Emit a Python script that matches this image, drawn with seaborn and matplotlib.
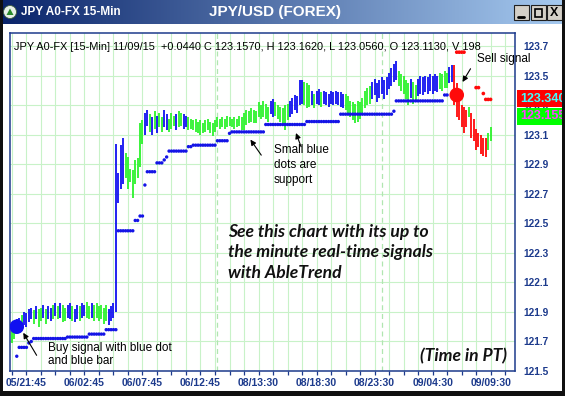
import numpy as np
import pandas as pd
import matplotlib
matplotlib.use("Agg")
import matplotlib.pyplot as plt
import seaborn as sns
from matplotlib.patches import Rectangle, Circle, Polygon

# ---------------- data ----------------
highs = [
    121.80, 121.82, 121.85, 121.86, 121.88, 121.90, 121.89, 121.92, 121.93, 121.91,
    121.94, 121.92, 121.93, 121.95, 121.92, 121.94, 121.93, 121.95, 121.96, 121.94,
    121.96, 121.95, 121.93, 121.95, 121.96, 121.94, 121.92, 121.95, 121.94, 121.96,
    121.95, 121.97, 121.94, 121.96, 121.95, 121.96, 121.94, 121.95, 121.93, 121.95,
    121.92, 121.94, 121.96,
    123.04, 122.84, 123.03, 123.08, 122.98, 122.95, 122.87, 122.86, 122.93, 122.94,
    123.18, 123.20, 123.25, 123.27,
    123.24, 123.22, 123.26, 123.23, 123.25, 123.22, 123.27, 123.24, 123.21, 123.25,
    123.23, 123.24, 123.26, 123.25, 123.24, 123.23, 123.22, 123.21, 123.20, 123.21,
    123.19, 123.20, 123.18, 123.20, 123.21, 123.19, 123.18, 123.20, 123.22, 123.21,
    123.22, 123.21, 123.23, 123.22, 123.21, 123.22, 123.21, 123.23, 123.22,
    123.25, 123.27, 123.26, 123.28, 123.27, 123.26, 123.32, 123.30, 123.33, 123.31,
    123.29, 123.33, 123.34, 123.32, 123.30, 123.29, 123.28, 123.30, 123.31, 123.33,
    123.35, 123.37, 123.36, 123.47, 123.47, 123.46, 123.45, 123.44, 123.40, 123.38,
    123.40, 123.41, 123.39, 123.40, 123.39, 123.38,
    123.40, 123.39, 123.40, 123.39, 123.39, 123.38, 123.38, 123.36, 123.33, 123.32,
    123.31, 123.33, 123.32, 123.35, 123.40, 123.42, 123.43,
    123.46, 123.48, 123.45, 123.47, 123.49, 123.47, 123.49, 123.52, 123.55, 123.58,
    123.60, 123.53, 123.51, 123.50, 123.47, 123.45, 123.48, 123.46, 123.44, 123.48,
    123.50, 123.49, 123.50, 123.49, 123.51, 123.50, 123.51, 123.50, 123.52, 123.51,
    123.53, 123.52, 123.56, 123.57,
    123.57, 123.45, 123.35, 123.30, 123.29, 123.27, 123.29, 123.25, 123.21, 123.14,
    123.11, 123.10, 123.08, 123.08, 123.11, 123.15,
]
lows = [
    121.69, 121.72, 121.76, 121.78, 121.80, 121.81, 121.80, 121.83, 121.85, 121.82,
    121.85, 121.80, 121.84, 121.86, 121.82, 121.85, 121.84, 121.85, 121.87, 121.85,
    121.86, 121.83, 121.84, 121.86, 121.85, 121.84, 121.83, 121.85, 121.84, 121.86,
    121.87, 121.86, 121.85, 121.86, 121.84, 121.86, 121.84, 121.85, 121.82, 121.84,
    121.81, 121.84, 121.86,
    121.90, 122.64, 122.73, 122.77, 122.81, 122.73, 122.78, 122.67, 122.77, 122.81,
    122.88, 123.04, 123.10, 123.16,
    123.12, 123.10, 123.14, 123.11, 123.15, 123.12, 123.15, 123.13, 123.12, 123.14,
    123.16, 123.13, 123.15, 123.16, 123.14, 123.15, 123.13, 123.14, 123.13, 123.12,
    123.11, 123.10, 123.11, 123.12, 123.13, 123.11, 123.09, 123.12, 123.15, 123.14,
    123.15, 123.14, 123.15, 123.16, 123.15, 123.14, 123.15, 123.16, 123.13,
    123.13, 123.17, 123.18, 123.19, 123.18, 123.18, 123.22, 123.21, 123.22, 123.21,
    123.19, 123.24, 123.22, 123.23, 123.21, 123.19, 123.17, 123.13, 123.20, 123.22,
    123.24, 123.27, 123.25, 123.30, 123.31, 123.30, 123.28, 123.29, 123.30, 123.28,
    123.31, 123.30, 123.29, 123.31, 123.30, 123.29,
    123.31, 123.30, 123.31, 123.30, 123.29, 123.28, 123.27, 123.25, 123.22, 123.20,
    123.18, 123.19, 123.21, 123.24, 123.28, 123.30, 123.31,
    123.34, 123.37, 123.32, 123.35, 123.38, 123.34, 123.37, 123.41, 123.43, 123.46,
    123.47, 123.43, 123.40, 123.38, 123.34, 123.30, 123.35, 123.31, 123.32, 123.36,
    123.38, 123.37, 123.39, 123.38, 123.40, 123.38, 123.40, 123.39, 123.41, 123.40,
    123.42, 123.42, 123.45, 123.46,
    123.30, 123.22, 123.20, 123.15, 123.11, 123.15, 123.22, 123.08, 123.06, 123.00,
    123.02, 122.97, 122.96, 122.95, 123.00, 123.06,
]
trend = list(
    "ggbbgbbbbg" "bggbgbbgbg" "bggbbgbbgb" "bggbgggggg" "bbb"
    "bbbbgggggggg" "bb"
    "gbgbggbbgg" "gbggbbgggg" "gggggggggg" "ggggggggg"
    "ggggggggggg" "bb" "gggggg" "bbbbbb" "ggg" "b" "g" "bb" "g" "bbb"
    "bbbbbb" "ggggggggggg"
    "bbbbbbbbbbb" "ggggg" "b" "gg" "bbbbbbbbb" "gggg" "bb"
    "rrrrrr" "g" "rrrrrrr" "gg"
)
support = [
    None, None, 121.60, 121.66, 121.66, 121.66, 121.66, 121.69, 121.70, 121.72,
    121.72, 121.72, 121.72, 121.72, 121.72, 121.72, 121.72, 121.72, 121.72, 121.72,
    121.72, 121.72, 121.72, 121.73, 121.73, 121.73, 121.73, 121.73, 121.73, 121.73,
    121.73, 121.73, 121.75, 121.75, 121.75, 121.75, 121.75, 121.75, 121.75, 121.78,
    121.78, 121.78, 121.78, 121.78, 122.45, 122.45, 122.45, 122.45, 122.45, 122.45,
    122.45, 122.52, 122.52, 122.55, 122.55, 122.76, 122.85, 122.85, 122.85, 122.85,
    122.91, 122.91, 122.91, 122.93, 122.95, 122.99, 122.99, 122.99, 122.99, 122.99,
    122.99, 122.99, 122.99, 123.02, 123.02, 123.03, 123.03, 123.03, 123.03, 123.03,
    123.03, 123.03, 123.03, 123.03, 123.03, 123.06, 123.06, 123.06, 123.06, 123.06,
    123.11, 123.12, 123.12, 123.12, 123.12, 123.12, 123.12, 123.12, 123.12, 123.12,
    123.12, 123.12, 123.12, 123.12, 123.12, 123.17, 123.17, 123.17, 123.17, 123.17,
    123.17, 123.17, 123.17, 123.17, 123.17, 123.17, 123.17, 123.17, 123.17, 123.17,
    123.17, 123.17, 123.19, 123.19, 123.19, 123.19, 123.19, 123.19, 123.19, 123.19,
    123.19, 123.19, 123.19, 123.19, 123.19, 123.19, 123.24, 123.24, 123.24, 123.24,
    123.24, 123.24, 123.24, 123.24, 123.24, 123.24, 123.24, 123.24, 123.24, 123.24,
    123.24, 123.24, 123.24, 123.24, 123.24, 123.24, 123.24, 123.24, 123.26, 123.33,
    123.33, 123.33, 123.33, 123.33, 123.33, 123.33, 123.33, 123.33, 123.33, 123.33,
    123.33, 123.33, 123.33, 123.33, 123.33, 123.33, 123.33, 123.33, 123.33, 123.37,
    123.37, None, None, None, None, None, None, None, None, None,
    None, None, None, None, None, None, None, None, None,
]
resist_idx = [184, 185, 186, 187, 192, 193, 195, 196, 197, 198]
resist_val = [123.66, 123.66, 123.66, 123.66, 123.42, 123.42, 123.38, 123.34, 123.34, 123.34]
buy_idx, buy_val = [2], [121.80]
sell_idx, sell_val = [184], [123.37]

x_tick_labels = ["05/21:45", "06/02:45", "06/07:45", "06/12:45", "08/13:30",
                 "08/18:30", "08/23:30", "09/04:30", "09/09:30"]
y_tick_values = [121.5, 121.7, 121.9, 122.1, 122.3, 122.5, 122.7, 122.9,
                 123.1, 123.3, 123.5, 123.7]
day_breaks = [85, 153]
header = ("JPY A0-FX [15-Min] 11/09/15  +0.0440 C 123.1570, H 123.1620, "
          "L 123.0560, O 123.1130, V 198")

assert len(highs) == len(lows) == len(trend) == len(support), (len(highs), len(lows), len(trend), len(support))

# ---------------- style ----------------
sns.set_theme(style="white")
plt.rcParams['font.family'] = ['Liberation Sans', 'DejaVu Sans']

W, H = 565, 396
fig = plt.figure(figsize=(W / 100, H / 100), dpi=100)
fig.patch.set_facecolor('white')

def fx(px):
    return px / W

def fy(py):
    return 1 - py / H

NAVY = '#1c3a8c'
GRID = '#c8f2c8'

ax = fig.add_axes([fx(10), fy(371), fx(515) - fx(10), fy(33) - fy(371)])
ax.set_facecolor('white')

n = len(highs)
df = pd.DataFrame({'i': np.arange(n), 'high': highs, 'low': lows, 'trend': trend,
                   'support': pd.array(support, dtype='Float64')})
palette = {'b': '#1010f0', 'g': '#2cf22c', 'r': '#ff0808'}

for d in day_breaks:
    ax.axvline(d, color='#b0e6b0', lw=0.9, ls=(0, (4, 3)), zorder=1)

for key, sub in df.groupby('trend'):
    ax.vlines(sub['i'], sub['low'], sub['high'], color=palette[key], lw=1.3, zorder=3)

sup = df.dropna(subset=['support'])
sns.scatterplot(x=sup['i'].values, y=sup['support'].astype(float).values, ax=ax,
                color='#1414e6', s=6, edgecolor='none', legend=False, zorder=4)
sns.scatterplot(x=resist_idx, y=resist_val, ax=ax, color='#ff0a0a', s=7,
                edgecolor='none', legend=False, zorder=4)
sns.scatterplot(x=buy_idx, y=buy_val, ax=ax, color='#1010f0', s=110,
                edgecolor='none', legend=False, zorder=5)
sns.scatterplot(x=sell_idx, y=sell_val, ax=ax, color='#ff0a0a', s=110,
                edgecolor='none', legend=False, zorder=5)

ax.set_xlim(-0.8, 208.1)
ax.set_ylim(121.5, 123.79)

ticks = list(range(0, 209, 6))
labels = []
for t in ticks:
    k = (t - 6) // 24
    labels.append(x_tick_labels[k] if (t - 6) % 24 == 0 and 0 <= k < len(x_tick_labels) else '')
ax.set_xticks(ticks)
ax.set_xticklabels(labels)
ax.set_yticks(y_tick_values)
ax.set_yticklabels([f"{v:.1f}" for v in y_tick_values])
ax.yaxis.tick_right()
ax.tick_params(axis='x', direction='out', length=3.2, width=0.9, color=NAVY,
               labelcolor=NAVY, labelsize=7.5, pad=2, bottom=True)
ax.tick_params(axis='y', length=0, labelcolor=NAVY, labelsize=7.3, pad=6)
for lab in ax.get_xticklabels() + ax.get_yticklabels():
    lab.set_fontweight('bold')
ax.grid(True, color=GRID, lw=0.8, zorder=0)
ax.set_axisbelow(True)
for s in ax.spines.values():
    s.set_color(NAVY)
    s.set_linewidth(1.1)
ax.set_xlabel('')
ax.set_ylabel('')

# header line inside plot
ax.text(0.008, 0.958, header, transform=ax.transAxes, fontsize=7.95,
        color='black', va='center', ha='left', zorder=6)

# annotations
arrow = dict(arrowstyle='-|>', color='black', lw=0.8, mutation_scale=8)
ax.annotate('', xy=(4.1, 121.775), xytext=(10.8, 121.59), arrowprops=arrow, zorder=6)
ax.annotate('', xy=(98.0, 123.083), xytext=(103.8, 122.947), arrowprops=arrow, zorder=6)
ax.annotate('', xy=(117.1, 123.13), xytext=(120.0, 123.002), arrowprops=arrow, zorder=6)
ax.annotate('', xy=(185.8, 123.442), xytext=(190.3, 123.564), arrowprops=arrow, zorder=6)

fig.text(fx(48), fy(348), "Buy signal with blue dot", fontsize=8.5, va='center', color='black')
fig.text(fx(48), fy(361), "and blue bar", fontsize=8.5, va='center', color='black')
fig.text(fx(274), fy(150), "Small blue", fontsize=8.5, va='center', color='black')
fig.text(fx(274), fy(165), "dots are", fontsize=8.5, va='center', color='black')
fig.text(fx(274), fy(180), "support", fontsize=8.5, va='center', color='black')
fig.text(fx(477), fy(59), "Sell signal", fontsize=8.5, va='center', color='black')

for k, line in enumerate(["See this chart with its up to",
                          "the minute real-time signals",
                          "with AbleTrend"]):
    fig.text(fx(228), fy(232 + 20.5 * k), line, fontsize=12.6, va='center',
             family=['Lato', 'DejaVu Sans'], style='italic', weight='bold', color='#111111')
fig.text(fx(463), fy(356), "(Time in PT)", fontsize=12.6, va='center', ha='center',
         family=['Lato', 'DejaVu Sans'], style='italic', weight='bold', color='#111111')

# price tags (drawn over the right tick labels, as in the original)
fig.patches.append(Rectangle((fx(517), fy(107)), fx(565) - fx(517), (107 - 90) / H,
                             transform=fig.transFigure, facecolor='#ff0000', edgecolor='none', zorder=5))
fig.text(fx(520), fy(98.5), "123.340", fontsize=9, weight='bold', color='#40ffff', va='center', zorder=6)
fig.patches.append(Rectangle((fx(517), fy(125)), fx(565) - fx(517), (125 - 108) / H,
                             transform=fig.transFigure, facecolor='#00ff00', edgecolor='none', zorder=5))
fig.text(fx(520), fy(116.5), "123.155", fontsize=9, weight='bold', color='#ff40ff', va='center', zorder=6)

# title bar
tb = fig.add_axes([0, fy(24), 1, 24 / H])
grad = np.linspace(0, 1, 256)[None, :]
c0 = np.array([10, 36, 106]) / 255
c1 = np.array([166, 202, 240]) / 255
img = c0[None, None, :] * (1 - grad[..., None]) + c1[None, None, :] * grad[..., None]
tb.imshow(img, aspect='auto', extent=[0, W, 0, 24])
tb.set_xlim(0, W)
tb.set_ylim(0, 24)
tb.axis('off')
tb.add_patch(Circle((10, 12), 6.5, facecolor='#e8f0e8', edgecolor='#406040', lw=0.6))
tb.add_patch(Polygon([[6.5, 9], [13.5, 9], [10, 15.5]], closed=True, facecolor='#2a8a2a', edgecolor='none'))
tb.text(21, 12, "JPY A0-FX 15-Min", color='white', fontsize=8.5, weight='bold', va='center')
tb.text(275, 12, "JPY/USD (FOREX)", color='white', fontsize=11, weight='bold', va='center', ha='center')
for k, glyph in enumerate(['_', 'box', 'X']):
    x0 = 514 + k * 16.5
    tb.add_patch(Rectangle((x0, 4), 15, 15, facecolor='#d4d0c8', edgecolor='#202020', lw=0.8))
    if glyph == 'box':
        tb.add_patch(Rectangle((x0 + 4, 7.5), 7, 8, facecolor='none', edgecolor='black', lw=1.2))
    elif glyph == '_':
        tb.plot([x0 + 4, x0 + 10], [7.5, 7.5], color='black', lw=2)
    else:
        tb.text(x0 + 7.5, 11.5, 'X', fontsize=9, weight='bold', ha='center', va='center', color='black')

# window frame
fig.patches.append(Rectangle((0, 0), fx(3), 1, transform=fig.transFigure, facecolor='#101010', edgecolor='none', zorder=7))
fig.patches.append(Rectangle((fx(562), 0), fx(3), 1, transform=fig.transFigure, facecolor='#101010', edgecolor='none', zorder=7))
fig.patches.append(Rectangle((0, 0), 1, 5 / H, transform=fig.transFigure, facecolor='#101010', edgecolor='none', zorder=7))

fig.savefig('out.png', dpi=100, facecolor=fig.get_facecolor())
